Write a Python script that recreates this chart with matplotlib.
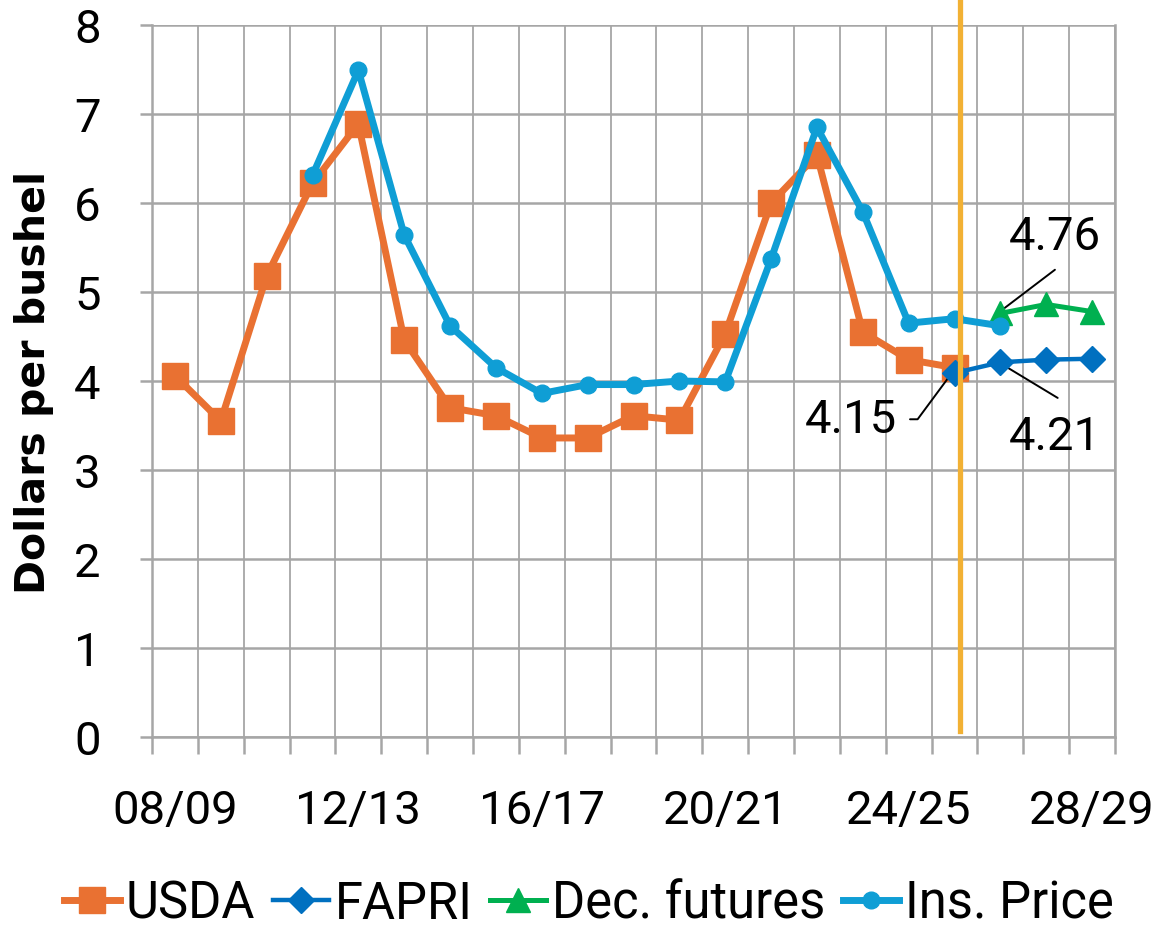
import numpy as np
import matplotlib
matplotlib.use("Agg")
import matplotlib.pyplot as plt
from matplotlib.ticker import FixedLocator, NullFormatter

plt.rcParams['font.family'] = ['Roboto', 'DejaVu Sans']

# marketing years 08/09 .. 28/29
years = [f"{y % 100:02d}/{(y + 1) % 100:02d}" for y in range(2008, 2029)]
x = np.arange(len(years))

usda = [4.06, 3.55, 5.18, 6.22, 6.89, 4.46, 3.70, 3.61, 3.36, 3.36, 3.61,
        3.56, 4.53, 6.00, 6.54, 4.55, 4.24, 4.15]
ins_price = [None, None, None, 6.31, 7.49, 5.64, 4.62, 4.15, 3.86, 3.96, 3.96,
             4.00, 3.99, 5.37, 6.85, 5.90, 4.65, 4.70, 4.62]
fapri = [4.09, 4.21, 4.24, 4.25]          # 25/26 .. 28/29
dec_futures = [4.76, 4.86, 4.78]           # 26/27 .. 28/29

ins_x = [i for i, v in enumerate(ins_price) if v is not None]
ins_y = [v for v in ins_price if v is not None]

c_usda = '#E97132'
c_fapri = '#0070C0'
c_fut = '#00B050'
c_ins = '#0F9ED5'
c_grid = '#A6A6A6'

fig = plt.figure(figsize=(11.68, 9.28), dpi=100)
ax = fig.add_axes([152 / 1168, 1 - 738 / 928, 963 / 1168, 712 / 928])

ax.plot(x[:len(usda)], usda, color=c_usda, lw=5, marker='s', ms=19,
        label='USDA', zorder=3)
ax.plot(x[17:17 + len(fapri)], fapri, color=c_fapri, lw=3.2, marker='D', ms=13,
        label='FAPRI', zorder=4)
ax.plot(x[18:18 + len(dec_futures)], dec_futures, color=c_fut, lw=3.6, marker='^',
        ms=17, label='Dec. futures', zorder=4)
ax.plot(ins_x, ins_y, color=c_ins, lw=5, marker='o', ms=12,
        label='Ins. Price', zorder=5)

# current-year marker line
ax.axvline(17.12, ymin=0.008, ymax=1.04, color='#F2B134', lw=3.8,
           clip_on=False, zorder=6)

ax.set_xlim(-0.5, len(years) - 0.5)
ax.set_ylim(0, 8)
ax.set_yticks(range(0, 9))

ax.set_xticks(x[::4])
ax.set_xticklabels(years[::4])
ax.xaxis.set_minor_locator(FixedLocator(np.arange(-0.5, len(years), 1)))
ax.xaxis.set_minor_formatter(NullFormatter())
ax.tick_params(axis='x', which='major', length=0, pad=37, labelsize=34)
ax.tick_params(axis='x', which='minor', length=12, width=1.8, color=c_grid,
               direction='out')
ax.tick_params(axis='y', length=9, width=1.8, color=c_grid, pad=28, labelsize=34)

ax.grid(axis='y', color=c_grid, lw=1.8, zorder=0)
ax.grid(axis='x', which='minor', color=c_grid, lw=1.3, zorder=0)
ax.set_axisbelow(True)
for s in ax.spines.values():
    s.set_color(c_grid)
    s.set_linewidth(1.8)
ax.spines['top'].set_visible(False)

ax.set_ylabel('Dollars per bushel', fontsize=29.5, fontweight='bold',
              family=['DejaVu Sans'])
ax.yaxis.set_label_coords(-0.102, 0.5)

# data labels with leader lines
ax.text(19.19, 5.63, '4.76', fontsize=34, ha='center', va='center')
ax.annotate('', xy=(17.99, 4.78), xytext=(19.19, 5.25),
            arrowprops=dict(arrowstyle='-', color='black', lw=1.4,
                            shrinkA=0, shrinkB=0))
ax.text(15.75, 3.57, '4.15', fontsize=34, ha='right', va='center')
ax.annotate('', xy=(17.0, 4.13), xytext=(16.03, 3.57),
            arrowprops=dict(arrowstyle='-', color='black', lw=1.4,
                            shrinkA=0, shrinkB=0,
                            connectionstyle='angle,angleA=0,angleB=53.5,rad=0'))
ax.text(19.19, 3.38, '4.21', fontsize=34, ha='center', va='center')
ax.annotate('', xy=(18.03, 4.19), xytext=(19.25, 3.81),
            arrowprops=dict(arrowstyle='-', color='black', lw=1.4,
                            shrinkA=0, shrinkB=0))

fig.legend(loc='center', bbox_to_anchor=(589 / 1168, 1 - 905 / 928), ncol=4,
           frameon=False, fontsize=36.5, handlelength=1.1, handletextpad=0.12,
           columnspacing=0.35, borderaxespad=0)

fig.savefig('out.png', dpi=100)
